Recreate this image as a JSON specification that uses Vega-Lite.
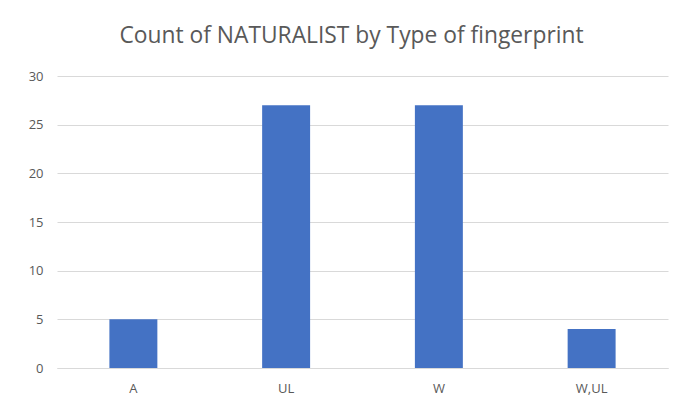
{
  "$schema": "https://vega.github.io/schema/vega-lite/v6.json",
  "width": 611,
  "height": 292,
  "autosize": {"type": "none"},
  "padding": {"left": 57, "top": 76, "right": 25, "bottom": 36},
  "background": "white",
  "title": {
    "text": "Count of NATURALIST by Type of fingerprint",
    "anchor": "middle",
    "font": "Open Sans",
    "fontSize": 22.8,
    "fontWeight": "normal",
    "color": "#595959",
    "offset": 22,
    "dx": -11
  },
  "data": {
    "values": [
      {"type": "A", "count": 5},
      {"type": "UL", "count": 27},
      {"type": "W", "count": 27},
      {"type": "W,UL", "count": 4}
    ]
  },
  "mark": {"type": "bar", "color": "#4472C4"},
  "encoding": {
    "x": {
      "field": "type",
      "type": "nominal",
      "sort": null,
      "scale": {"paddingInner": 0.686, "paddingOuter": 0.343},
      "axis": {
        "title": null,
        "labelAngle": 0,
        "ticks": false,
        "domainColor": "#d9d9d9",
        "labelFont": "Open Sans",
        "labelFontSize": 13,
        "labelColor": "#595959",
        "labelPadding": 14
      }
    },
    "y": {
      "field": "count",
      "type": "quantitative",
      "scale": {"domain": [0, 30]},
      "axis": {
        "title": null,
        "values": [0, 5, 10, 15, 20, 25, 30],
        "domain": false,
        "ticks": false,
        "gridColor": "#d9d9d9",
        "labelFont": "Open Sans",
        "labelFontSize": 13,
        "labelColor": "#595959",
        "labelPadding": 14
      }
    }
  },
  "config": {"view": {"stroke": null}}
}
